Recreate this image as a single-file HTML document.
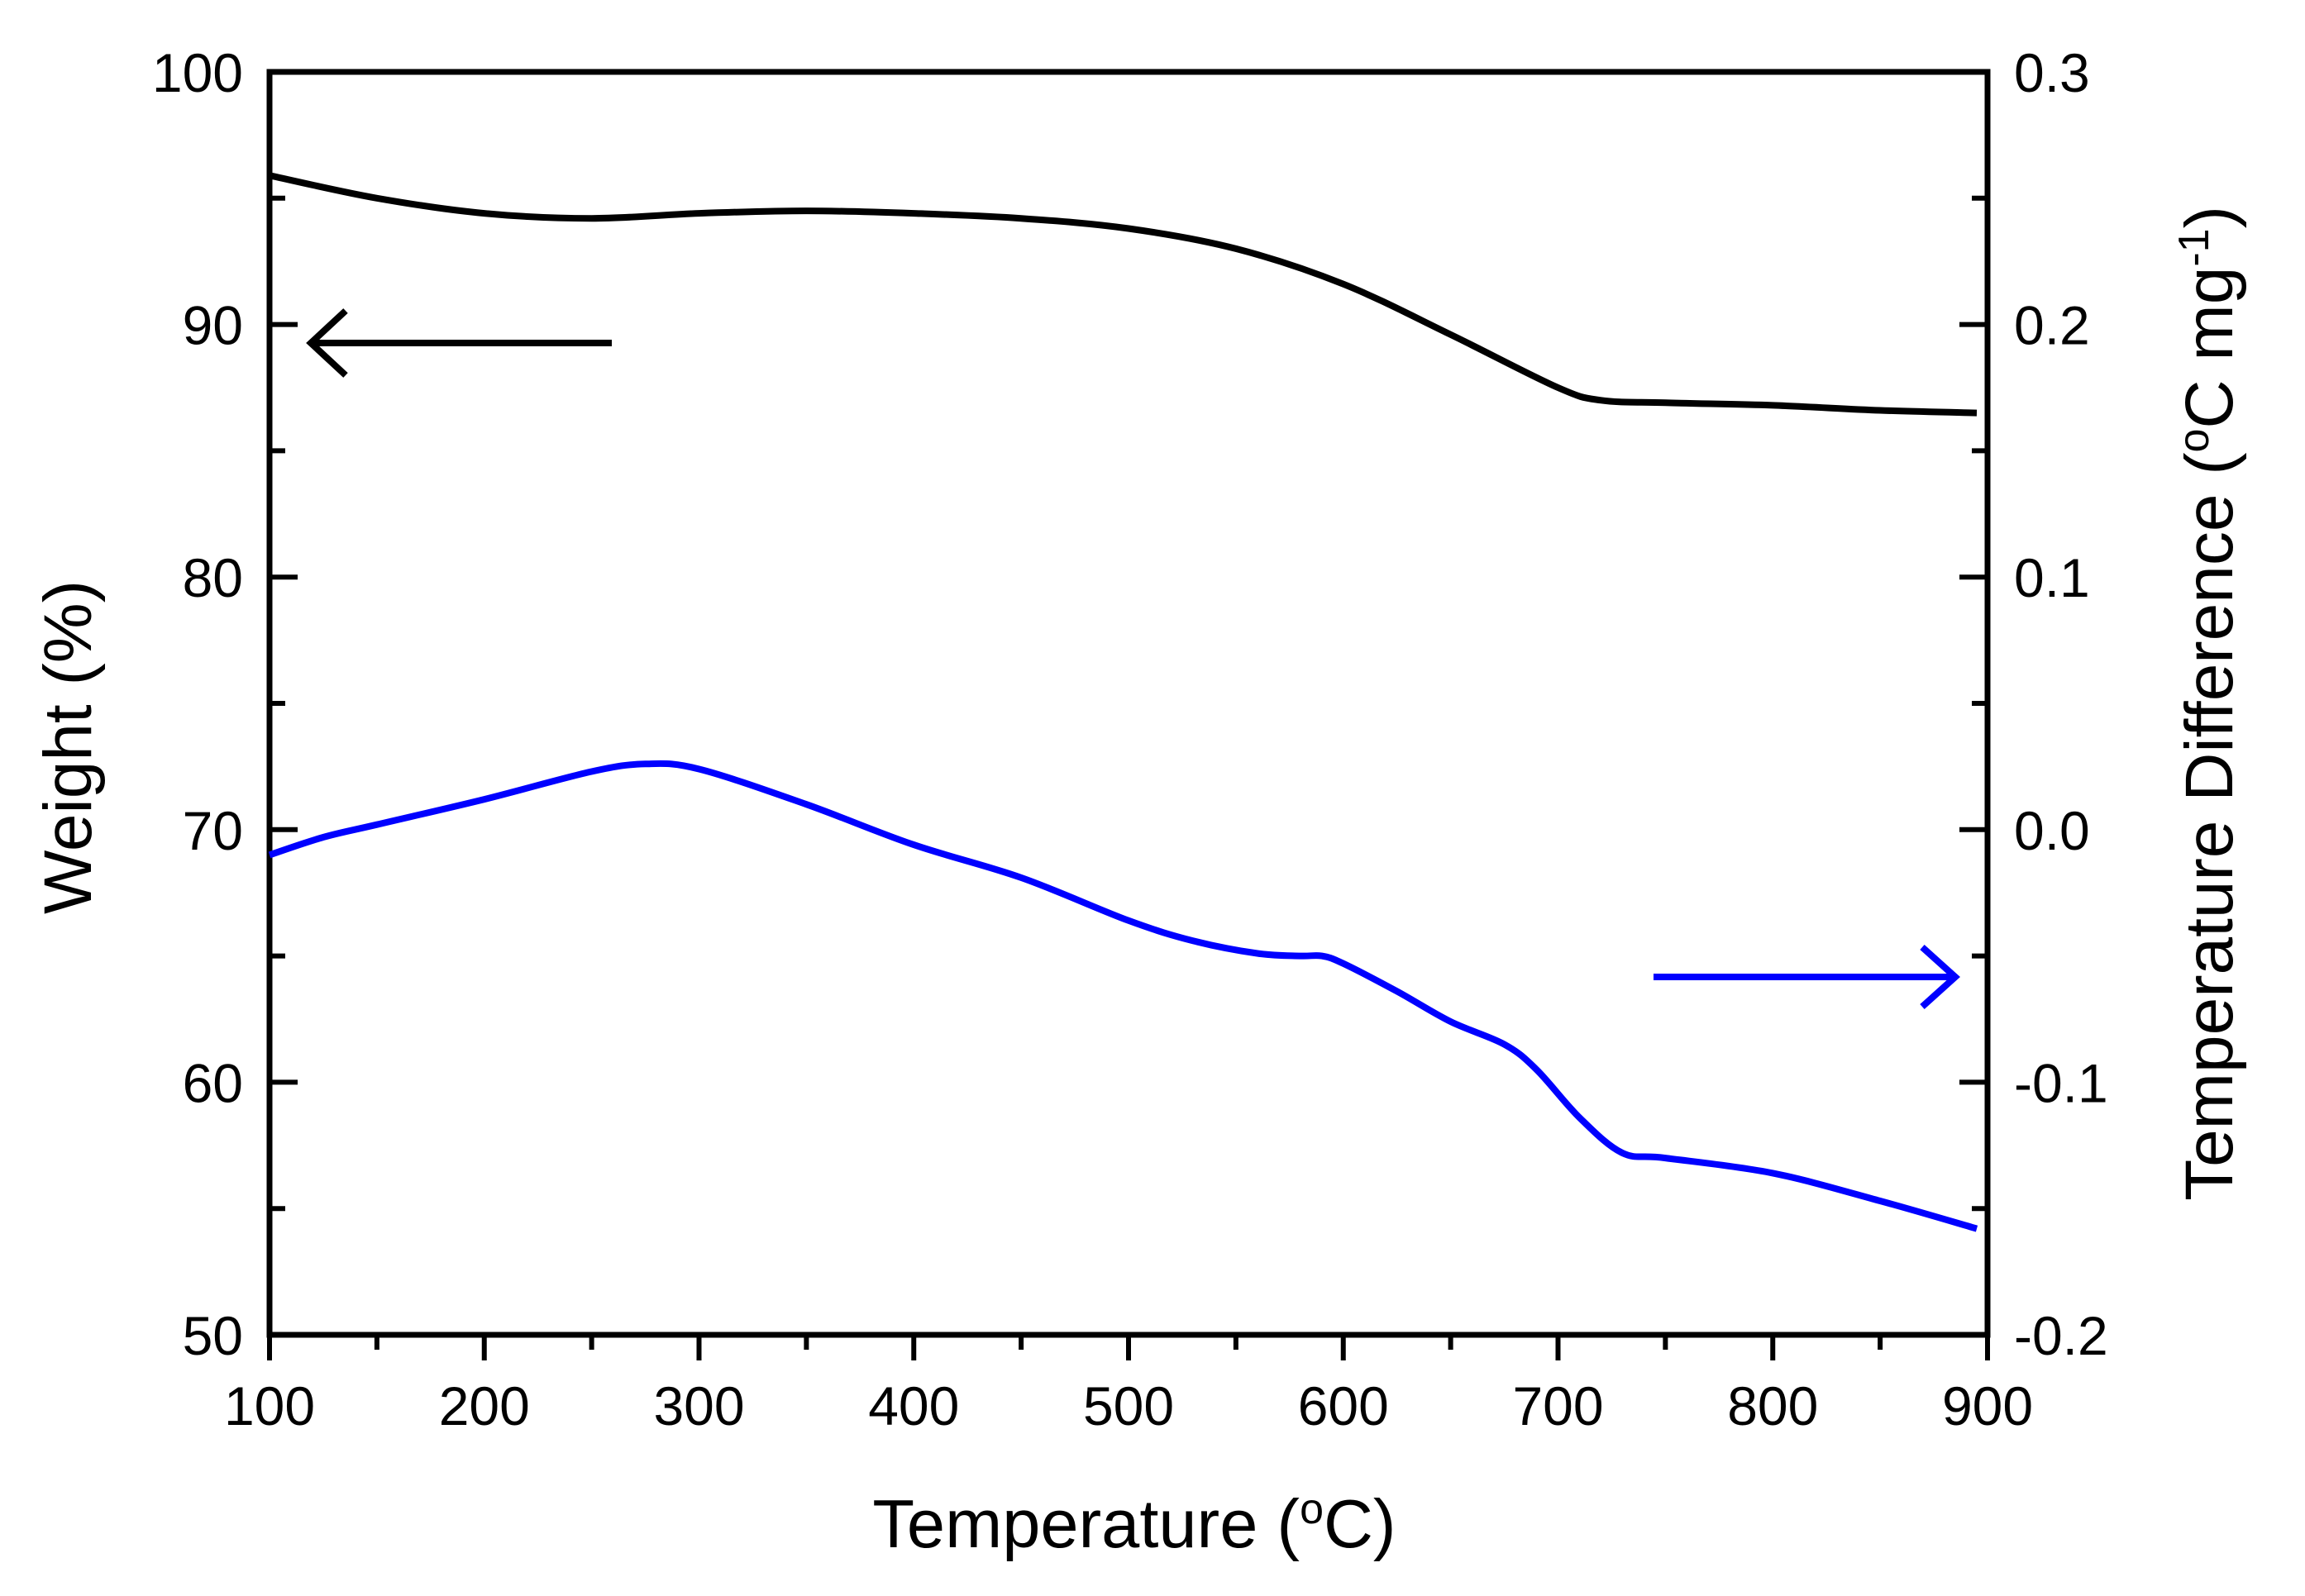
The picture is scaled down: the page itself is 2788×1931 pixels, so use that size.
<!DOCTYPE html>
<html><head><meta charset="utf-8"><style>
html,body{margin:0;padding:0;background:#fff;}
svg{display:block;font-family:"Liberation Sans",Arial,sans-serif;}
</style></head><body>
<svg id="chart" width="2788" height="1931" viewBox="0 0 2788 1931" xmlns="http://www.w3.org/2000/svg">
<g id="axes"></g>
<g id="series"></g>
<g id="labels"></g>
</svg>
<script>
const xTicks = [100,200,300,400,500,600,700,800,900];
const yLeftTicks = [50,60,70,80,90,100];
const yRightTicks = ["-0.2","-0.1","0.0","0.1","0.2","0.3"];
const weightT = [100,150,200,250,300,350,400,450,500,550,600,650,700,720,750,800,850,895];
const weightV = [95.9,95.0,94.4,94.2,94.4,94.5,94.4,94.2,93.8,93.0,91.6,89.6,87.5,87.0,86.9,86.8,86.6,86.5];
const dtaT = [100,125,150,200,250,275,300,350,400,450,500,530,560,580,590,600,625,650,675,690,710,730,750,800,850,895];
const dtaV = [-0.010,-0.003,0.002,0.012,0.023,0.026,0.024,0.010,-0.006,-0.019,-0.036,-0.044,-0.049,-0.050,-0.050,-0.053,-0.064,-0.076,-0.085,-0.095,-0.114,-0.128,-0.130,-0.136,-0.147,-0.158];

const X0=326,X1=2404,Y0=1615,Y1=87;
const xs=t=>X0+(t-100)/800*(X1-X0);
const yl=v=>Y0-(v-50)/50*(Y0-Y1);
const yr=v=>Y0-(v+0.2)/0.5*(Y0-Y1);
const NS="http://www.w3.org/2000/svg";
function mk(tag,attrs,parent,txt){const e=document.createElementNS(NS,tag);for(const k in attrs)e.setAttribute(k,attrs[k]);if(txt!==undefined)e.textContent=txt;parent.appendChild(e);return e;}
const axes=document.getElementById('axes'),series=document.getElementById('series'),labels=document.getElementById('labels');

const frame=mk('rect',{x:X0,y:Y1,width:X1-X0,height:Y0-Y1,fill:'none',stroke:'#000','stroke-width':7},axes);



for(let t=100;t<=900;t+=50){const maj=t%100===0;
 const l=mk('line',{x1:xs(t),x2:xs(t),y1:Y0,y2:Y0+(maj?31:18),stroke:'#000','stroke-width':6},axes);
 
 }
xTicks.forEach(t=>{const e=mk('text',{x:xs(t),y:1724,'font-size':66,'text-anchor':'middle'},labels,String(t));
 
 });
for(let v=50;v<=100;v+=5){const maj=v%10===0;
 const l=mk('line',{x1:X0,x2:X0+(maj?34:19),y1:yl(v),y2:yl(v),stroke:'#000','stroke-width':6},axes);
 
 }
yLeftTicks.forEach(v=>{const e=mk('text',{x:294,y:yl(v)+24,'font-size':66,'text-anchor':'end'},labels,String(v));
 
 });
for(let i=0;i<=10;i++){const v=-0.2+i*0.05;const maj=i%2===0;
 const l=mk('line',{x1:X1,x2:X1-(maj?34:19),y1:yr(v),y2:yr(v),stroke:'#000','stroke-width':6},axes);
 
 }
yRightTicks.forEach(s=>{const e=mk('text',{x:2436,y:yr(parseFloat(s))+24,'font-size':66,'text-anchor':'start'},labels,s);
 
 });

const wp=weightT.map((t,i)=>[xs(t),yl(weightV[i])]);
const dp=dtaT.map((t,i)=>[xs(t),yr(dtaV[i])]);
function smooth(p){let d='M'+p[0][0].toFixed(1)+','+p[0][1].toFixed(1);
 for(let i=0;i<p.length-1;i++){const a=p[i-1]||p[i],b=p[i],c=p[i+1],e=p[i+2]||c;
  const c1=[b[0]+(c[0]-a[0])/6,b[1]+(c[1]-a[1])/6],c2=[c[0]-(e[0]-b[0])/6,c[1]-(e[1]-b[1])/6];
  d+=' C'+c1[0].toFixed(1)+','+c1[1].toFixed(1)+' '+c2[0].toFixed(1)+','+c2[1].toFixed(1)+' '+c[0].toFixed(1)+','+c[1].toFixed(1);}
 return d;}
const w=mk('path',{d:smooth(wp),fill:'none',stroke:'#000','stroke-width':8,'stroke-linejoin':'round'},series);


const b=mk('path',{d:smooth(dp),fill:'none',stroke:'#0000ff','stroke-width':8,'stroke-linejoin':'round'},series);



const a1=mk('path',{d:'M740,415 L376,415 M418,376 L376,415 L418,454',fill:'none',stroke:'#000','stroke-width':8},series);


const a2=mk('path',{d:'M2000,1182 L2365,1182 M2325,1146 L2365,1182 L2325,1218',fill:'none',stroke:'#0000ff','stroke-width':8},series);



const xt=mk('text',{x:1372,y:1872,'font-size':83,'text-anchor':'middle'},labels);
xt.innerHTML='Temperature (<tspan baseline-shift="super" font-size="52">o</tspan>C)';


const ylt=mk('text',{x:0,y:0,'font-size':82,'text-anchor':'middle',transform:'translate(110,904) rotate(-90)'},labels,'Weight (%)');


const yrt=mk('text',{x:0,y:0,'font-size':82,'text-anchor':'middle',transform:'translate(2700,851) rotate(-90)'},labels);
yrt.innerHTML='Temperature Difference (<tspan baseline-shift="super" font-size="52">o</tspan>C mg<tspan baseline-shift="super" font-size="52">-1</tspan>)';


</script>
</body></html>
